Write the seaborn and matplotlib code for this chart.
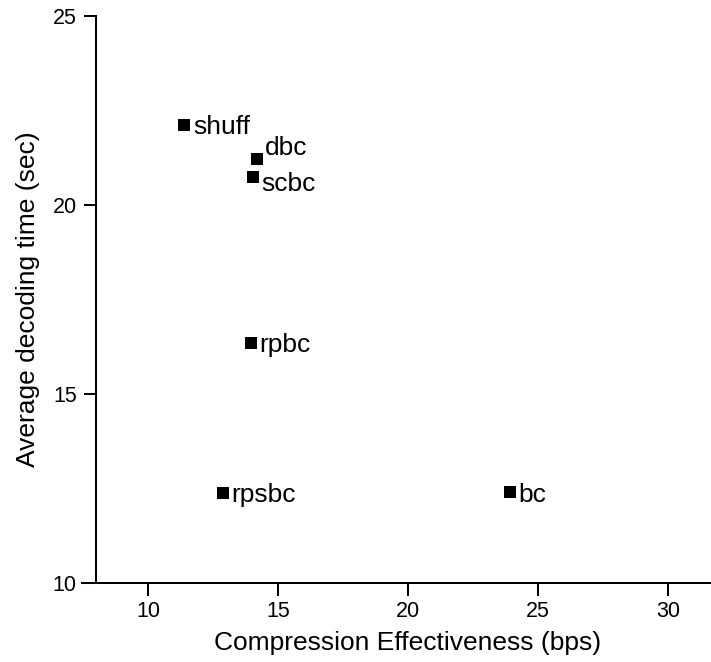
"""Decoding time vs compression effectiveness scatter."""

import matplotlib
matplotlib.use("Agg")
import matplotlib.pyplot as plt
import pandas as pd
import seaborn as sns

# data
methods = ["shuff", "dbc", "scbc", "rpbc", "rpsbc", "bc"]
effectiveness = [11.40, 14.18, 14.05, 13.95, 12.87, 23.91]  # bps
decode_time = [22.11, 21.21, 20.75, 16.35, 12.39, 12.40]  # sec
x_ticks = [10, 15, 20, 25, 30]
y_ticks = [10, 15, 20, 25]

# label nudges in points (baseline relative to marker centre)
label_dy = {"dbc": 3.0, "scbc": -10.5}
default_dy = -6.5

sns.set_theme(style="ticks")
plt.rcParams["font.family"] = ["Liberation Sans", "DejaVu Sans"]
plt.rcParams.update({
    "text.color": "black",
    "axes.labelcolor": "black",
    "xtick.color": "black",
    "ytick.color": "black",
})

df = pd.DataFrame({"method": methods, "eff": effectiveness, "time": decode_time})

fig = plt.figure(figsize=(7.11, 6.62), dpi=100)
# the x axis runs a little past the right edge of the figure, as in the source
ax = fig.add_axes([82.3 / 711, 1 - 583.3 / 662, 650.8 / 711, 567.6 / 662])

sns.scatterplot(data=df, x="eff", y="time", marker="s", color="black",
                s=63, linewidth=0, ax=ax, clip_on=False, zorder=3)

for _, row in df.iterrows():
    ax.annotate(row["method"], (row["eff"], row["time"]),
                xytext=(6, label_dy.get(row["method"], default_dy)),
                textcoords="offset points", ha="left", va="baseline",
                fontsize=19, color="black")

ax.set_xlim(7.47, 32.5)
ax.set_ylim(10, 25)
ax.set_xticks(x_ticks)
ax.set_yticks(y_ticks)

ax.spines["right"].set_visible(False)
ax.spines["top"].set_visible(False)
ax.spines["left"].set_position(("data", 8))
ax.spines["left"].set_bounds(10, 25)
for side in ("left", "bottom"):
    ax.spines[side].set_linewidth(1.45)
    ax.spines[side].set_color("black")

ax.tick_params(axis="both", direction="out", length=9, width=1.45,
               labelsize=15.5)
ax.tick_params(axis="x", pad=4)
ax.tick_params(axis="y", pad=5)

ax.set_xlabel("Compression Effectiveness (bps)", fontsize=19, labelpad=6)
ax.set_ylabel("Average decoding time (sec)", fontsize=19, labelpad=9)

fig.savefig("out.png", dpi=100)
plt.close(fig)
